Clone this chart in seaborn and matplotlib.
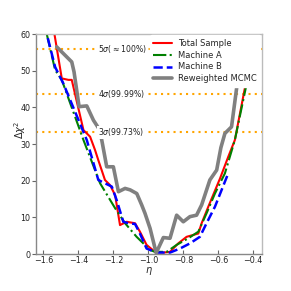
import matplotlib
matplotlib.use("Agg")
import matplotlib.pyplot as plt
import seaborn as sns
import pandas as pd

red_x = [-1.56, -1.537, -1.495, -1.457, -1.438, -1.371, -1.333, -1.305, -1.286, -1.248, -1.219, -1.19,
         -1.162, -1.124, -1.076, -1.048, -1.01, -0.962, -0.914, -0.876, -0.829, -0.781, -0.714, -0.695,
         -0.657, -0.59, -0.543, -0.505, -0.448, -0.41]
red_y = [66, 60, 47.9, 47.5, 47.5, 33.8, 32, 28.4, 25.6, 20.2, 18.8, 16.1,
         7.9, 8.8, 8.4, 6.1, 2.5, 0.6, 0.4, 0.6, 2.9, 4.7, 5.6, 8.4,
         12.9, 20.6, 26.5, 31.1, 45.2, 60]

green_x = [-1.60, -1.581, -1.533, -1.495, -1.371, -1.276, -1.19, -1.133, -1.067, -0.99, -0.962, -0.895,
           -0.838, -0.771, -0.714, -0.667, -0.619, -0.562, -0.505, -0.443, -0.41]
green_y = [66, 60, 50.2, 47.5, 31.1, 19.3, 12.5, 8.4, 4.7, 1.1, 0.6, 0.6,
           2.5, 4.3, 6.1, 11.1, 16.5, 22, 31.1, 45.2, 58]

blue_x = [-1.60, -1.581, -1.533, -1.486, -1.352, -1.286, -1.257, -1.209, -1.181, -1.143, -1.114, -1.076,
          -1.048, -1.01, -0.952, -0.876, -0.819, -0.762, -0.705, -0.667, -0.619, -0.543]
blue_y = [66, 60, 51, 46.5, 31.1, 20.2, 19.5, 18.4, 14.7, 8.8, 8.4, 8.2,
          5.6, 1.5, 0.4, 0.4, 1.5, 2.9, 4.7, 8.4, 12.9, 22]

gray_x = [-1.524, -1.438, -1.425, -1.396, -1.352, -1.314, -1.28, -1.266, -1.238, -1.2, -1.171, -1.133,
          -1.104, -1.066, -1.038, -1.019, -0.99, -0.955, -0.914, -0.876, -0.838, -0.8, -0.762, -0.724,
          -0.695, -0.648, -0.609, -0.585, -0.562, -0.524, -0.495, -0.46]
gray_y = [56.5, 52.4, 49.7, 40.2, 40.4, 36.5, 34.0, 31.0, 23.8, 23.8, 17, 17.9,
          17.5, 16.5, 13.4, 11.1, 7.0, 0.3, 4.5, 4.3, 10.6, 8.8, 10.2, 10.6,
          13.4, 20.2, 22.9, 29.0, 32.9, 34.7, 45.2, 60]

sigma_levels = [33.2, 43.7, 55.9]
sigma_labels = [r"3$\sigma$(99.73%)", r"4$\sigma$(99.99%)", r"5$\sigma$($\approx$100%)"]

sns.set_style("white")
plt.rcParams['font.family'] = ['DejaVu Sans']

fig = plt.figure(figsize=(2.91, 2.91), dpi=100)
ax = fig.add_axes([0.124, 0.127, 0.775, 0.756])

for lvl, lab in zip(sigma_levels, sigma_labels):
    ax.axhline(lvl, color="orange", linestyle=(0, (1, 2)), linewidth=1.5, zorder=1)
    ax.text(-1.287, lvl, lab, fontsize=5.6, va="center", ha="left", color="#222222",
            bbox=dict(facecolor="white", edgecolor="none", pad=0.5), zorder=4)

series = [
    ("Total Sample", red_x, red_y, "red", "-", 1.5),
    ("Machine A", green_x, green_y, "green", "-.", 1.5),
    ("Machine B", blue_x, blue_y, "blue", "--", 1.8),
    ("Reweighted MCMC", gray_x, gray_y, "gray", "-", 2.6),
]
for lab, xs, ys, c, ls, lw in series:
    df = pd.DataFrame({"x": xs, "y": ys})
    sns.lineplot(data=df, x="x", y="y", ax=ax, color=c, linestyle=ls, linewidth=lw,
                 label=lab, sort=False, estimator=None, zorder=2)

ax.set_xlim(-1.642, -0.352)
ax.set_ylim(0, 60)
ax.set_xticks([-1.6, -1.4, -1.2, -1.0, -0.8, -0.6, -0.4])
ax.set_yticks([0, 10, 20, 30, 40, 50, 60])
ax.tick_params(axis="x", direction="in", labelsize=5.8, length=3, width=0.8,
               color="#666666", labelcolor="#222222", pad=1.5, bottom=True)
ax.tick_params(axis="y", direction="out", labelsize=5.8, length=3, width=0.8,
               color="#666666", labelcolor="#222222", pad=1, left=True)
ax.set_xlabel(r"$\eta$", fontsize=7, labelpad=0)
ax.set_ylabel(r"$\Delta\chi^2$", fontsize=7)
ax.yaxis.set_label_coords(-0.035, 0.565)
for s in ["left", "bottom"]:
    ax.spines[s].set_color("#888888")
for s in ["top", "right"]:
    ax.spines[s].set_color("#bbbbbb")
for s in ax.spines.values():
    s.set_linewidth(1.0)

leg = ax.legend(loc="upper right", fontsize=6, frameon=True, framealpha=1.0,
                facecolor="white", edgecolor="white", borderaxespad=0.15,
                handlelength=2.3, handletextpad=0.7, labelspacing=0.35, borderpad=0.4)
leg.set_zorder(10)

fig.savefig("out.png", dpi=100)
